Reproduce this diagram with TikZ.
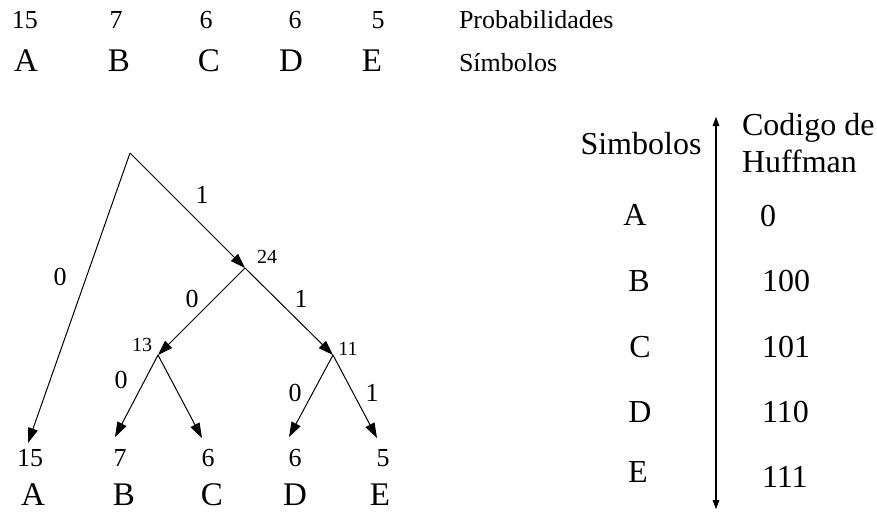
\documentclass[tikz,border=0pt]{standalone}
\usepackage{fontspec}
\setmainfont{Liberation Serif}
\usetikzlibrary{arrows.meta}
\tikzset{
  txt/.style={inner sep=0pt, outer sep=0pt, anchor=base},
  num/.style={txt, font=\fontsize{26}{30}\selectfont},
  let/.style={txt, font=\fontsize{33}{38}\selectfont},
  lab/.style={inner sep=0pt, font=\fontsize{26}{30}\selectfont},
  small/.style={inner sep=0pt, font=\fontsize{20}{24}\selectfont},
  big/.style={txt, font=\fontsize{32}{37}\selectfont},
  edge/.style={line width=1pt},
  arr/.style={edge, -{Triangle[length=15pt,width=10pt]}},
  axis/.style={line width=2.5pt, {Triangle[length=10pt,width=6pt]}-{Triangle[length=10pt,width=6pt]}}
}
\begin{document}
\begin{tikzpicture}[x=1pt,y=-1pt]
\useasboundingbox (0,0) rectangle (877,512);
% top rows
\node[num] (p1) at (25,28) {15};
\node[num] (p2) at (116,28) {7};
\node[num] (p3) at (206,28) {6};
\node[num] (p4) at (295,28) {6};
\node[num] (p5) at (378,28) {5};
\node[num, anchor=base west] (prob) at (459,28) {Probabilidades};
\node[let] (s1) at (26,71) {A};
\node[let] (s2) at (119,71) {B};
\node[let] (s3) at (209,71) {C};
\node[let] (s4) at (291,71) {D};
\node[let] (s5) at (372,71) {E};
\node[num, anchor=base west] (simb) at (459,71) {Símbolos};
% tree
\coordinate (root) at (130,153);
\coordinate (n24) at (245,268);
\coordinate (n13) at (158,355);
\coordinate (n11) at (333,355);
\coordinate (tA) at (28,443);
\coordinate (tB) at (115,437);
\coordinate (tC) at (202,438);
\coordinate (tD) at (289,437);
\coordinate (tE) at (377,438);
\draw[arr] (root) -- (tA);
\draw[arr] (root) -- (n24);
\draw[arr] (n24) -- (n13);
\draw[arr] (n24) -- (n11);
\draw[arr] (n13) -- (tB);
\draw[arr] (n13) -- (tC);
\draw[arr] (n11) -- (tD);
\draw[arr] (n11) -- (tE);
\node[lab] (l1) at (202,195) {1};
\node[lab] (l2) at (60,277) {0};
\node[small] (l24) at (267,257) {24};
\node[lab] (l3) at (192,299) {0};
\node[lab] (l4) at (301,299) {1};
\node[small] (l13) at (142,345) {13};
\node[small] (l11) at (348,349) {11};
\node[lab] (l5) at (121,380) {0};
\node[lab] (l6) at (295,393) {0};
\node[lab] (l7) at (372,393) {1};
% leaves
\node[num] (b1) at (30,466) {15};
\node[num] (b2) at (120,466) {7};
\node[num] (b3) at (208,466) {6};
\node[num] (b4) at (295,466) {6};
\node[num] (b5) at (383,466) {5};
\node[let] (c1) at (33,505) {A};
\node[let] (c2) at (124,505) {B};
\node[let] (c3) at (212,505) {C};
\node[let] (c4) at (295,505) {D};
\node[let] (c5) at (380,505) {E};
% table
\coordinate (axtop) at (716,116);
\coordinate (axbot) at (716,510);
\draw[axis] (axtop) -- (axbot);
\node[big] (th1) at (641,154) {Simbolos};
\node[big, anchor=base west] (th2) at (742,135) {Codigo de};
\node[big, anchor=base west] (th3) at (742,172) {Huffman};
\node[big] (rA) at (635,225) {A};
\node[big] (rB) at (639,291) {B};
\node[big] (rC) at (640,357) {C};
\node[big] (rD) at (640,422) {D};
\node[big] (rE) at (638,482) {E};
\node[big] (k1) at (768,226) {0};
\node[big, anchor=base west] (k2) at (762,291) {100};
\node[big, anchor=base west] (k3) at (762,357) {101};
\node[big, anchor=base west] (k4) at (762,422) {110};
\node[big, anchor=base west] (k5) at (762,487) {111};
\end{tikzpicture}
\end{document}
